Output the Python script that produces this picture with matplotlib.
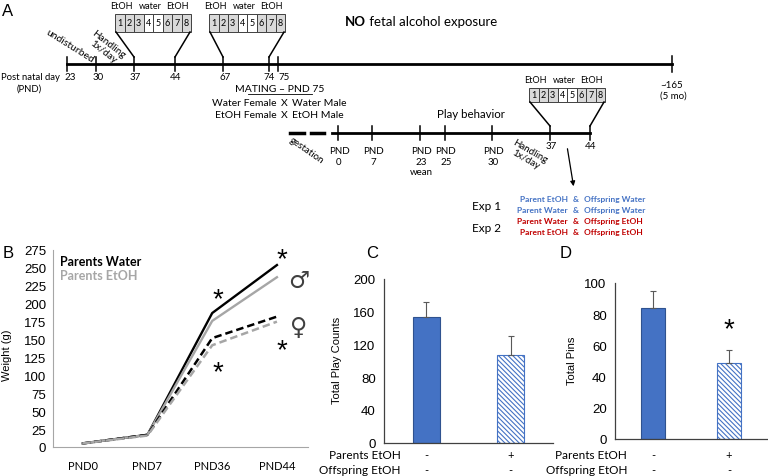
import matplotlib.pyplot as plt
from matplotlib.patches import Rectangle

plt.rcParams['font.family'] = ['Lato', 'DejaVu Sans']
plt.rcParams['hatch.linewidth'] = 0.8

W, H = 768, 477
ARIAL = 'Liberation Sans'
BLUE = '#4472c4'
RED = '#c00000'
GREY = '#a6a6a6'

# --- panel B: body weight (g)
days = ['PND0', 'PND7', 'PND36', 'PND44']
water_male = [5, 17, 187, 254]
etoh_male = [5, 17, 176, 237]
water_female = [5, 17, 152, 182]
etoh_female = [5, 16, 142, 175]

# --- panels C and D
parents_etoh = ['-', '+']
offspring_etoh = ['-', '-']
play_counts = [153, 107]
play_err = [19, 23]
pins = [84, 49]
pins_err = [11, 8]

# --- panel A timeline
top_days = ['23', '30', '37', '44', '67', '74', '75']
top_x = [67, 96, 134, 175, 223, 269, 278]
top_lab_x = [70, 98, 135, 176, 225, 269, 284]
low_days = ['PND\n0', 'PND\n7', 'PND\n23\nwean', 'PND\n25', 'PND\n30', '37', '44']
low_x = [338, 372, 420, 445, 492, 550, 590]
cells = ['1', '2', '3', '4', '5', '6', '7', '8']
water_cells = [3, 4]
exp_parent = ['Parent EtOH', 'Parent Water', 'Parent Water', 'Parent EtOH']
exp_offspring = ['Offspring Water', 'Offspring Water', 'Offspring EtOH', 'Offspring EtOH']
exp_colors = [BLUE, BLUE, RED, RED]


def px_axes(x0, x1, ytop, ybot):
    return fig.add_axes([x0 / W, 1 - ybot / H, (x1 - x0) / W, (ybot - ytop) / H])


fig = plt.figure(figsize=(W / 100, H / 100), dpi=100)

# ---------------- B
axB = px_axes(53, 308, 251, 448)
xs = range(len(days))
axB.plot(xs, water_male, color='black', lw=1.7)
axB.plot(xs, etoh_male, color=GREY, lw=1.7)
axB.plot(xs, water_female, color='black', lw=1.8, ls=(0, (3, 1.6)))
axB.plot(xs, etoh_female, color=GREY, lw=1.8, ls=(0, (3, 1.6)))
axB.set_xlim(-0.46, 3.48)
axB.set_ylim(0, 275)
axB.set_xticks(list(xs), days, fontsize=8)
yt = list(range(0, 276, 25))
axB.set_yticks(yt, [str(v) for v in yt], fontfamily=ARIAL, fontsize=9.5)
axB.tick_params(length=0, pad=5)
axB.tick_params(axis='x', pad=9)
for s in ['top', 'right']:
    axB.spines[s].set_visible(False)
for s in ['left', 'bottom']:
    axB.spines[s].set_color(GREY)
axB.set_ylabel('Weight (g)', fontfamily=ARIAL, fontsize=8)
axB.yaxis.set_label_coords(-0.16, 0.47)
axB.text(0.027, 0.944, 'Parents Water', transform=axB.transAxes, fontsize=9,
         fontweight='bold', va='center')
axB.text(0.027, 0.873, 'Parents EtOH', transform=axB.transAxes, fontsize=9,
         fontweight='bold', va='center', color=GREY)
for xa, ya in [(2.09, 206), (2.09, 104), (3.08, 262), (3.07, 135)]:
    axB.text(xa, ya, '*', fontfamily=ARIAL, fontsize=20, ha='center', va='center')
axB.text(3.33, 233, '\u2642', fontsize=17, ha='center', va='center', color='#404040')
axB.text(3.34, 167, '\u2640', fontsize=17, ha='center', va='center', color='#404040')


def bar_panel(ax, vals, errs, ymax, step, label, row_x, row_y):
    bx = [0, 1]
    ax.bar(bx[0], vals[0], width=0.32, color=BLUE, edgecolor='#2f528f', lw=0.8)
    ax.bar(bx[1], vals[1], width=0.32, color='white', edgecolor=BLUE, lw=0.8,
           hatch='\\' * 7)
    ax.errorbar(bx, vals, yerr=[[0, 0], errs], fmt='none', ecolor='#595959',
                elinewidth=0.8, capsize=2.5, capthick=0.8)
    ax.set_xlim(-0.5, 1.5)
    ax.set_ylim(0, ymax)
    ax.set_xticks([])
    t = list(range(0, ymax + 1, step))
    ax.set_yticks(t, [str(v) for v in t], fontfamily=ARIAL, fontsize=9.5)
    ax.tick_params(length=0, pad=6)
    for s in ['top', 'right']:
        ax.spines[s].set_visible(False)
    for s in ['left', 'bottom']:
        ax.spines[s].set_color('#404040')
        ax.spines[s].set_linewidth(0.9)
    ax.set_ylabel(label, fontfamily=ARIAL, fontsize=8)
    ax.yaxis.set_label_coords(-0.25, 0.51)
    tr = ax.get_xaxis_transform()
    ax.text(row_x, row_y[0], 'Parents EtOH', transform=ax.transAxes, ha='right',
            va='center', fontsize=8.5)
    ax.text(row_x, row_y[1], 'Offspring EtOH', transform=ax.transAxes, ha='right',
            va='center', fontsize=8.5)
    for i in bx:
        ax.text(i, row_y[0], parents_etoh[i], transform=tr, ha='center', va='center', fontsize=8)
        ax.text(i, row_y[1], offspring_etoh[i], transform=tr, ha='center', va='center', fontsize=8)


axC = px_axes(384, 553, 280, 443.7)
bar_panel(axC, play_counts, play_err, 200, 40, 'Total Play Counts', 0.10, [-0.072, -0.165])

axD = px_axes(615, 767, 284, 440)
bar_panel(axD, pins, pins_err, 100, 20, 'Total Pins', 0.079, [-0.1, -0.196])
axD.text(1, 70.5, '*', fontfamily=ARIAL, fontsize=20, ha='center', va='center')

# ---------------- A (drawn in pixel space)
ov = fig.add_axes([0, 0, 1, 1])
ov.set_xlim(0, W)
ov.set_ylim(H, 0)
ov.axis('off')
ov.patch.set_alpha(0)

for lab, (x, y) in zip('ABCD', [(8, 11), (8, 253), (372, 253), (566, 253)]):
    ov.text(x, y, lab, fontfamily=ARIAL, fontsize=12, ha='center', va='center')


def dose_box(x0, y0, w, h, tick_l, tick_r, line_top):
    cw = w / 8
    for i, c in enumerate(cells):
        fc = 'white' if i in water_cells else '#d9d9d9'
        ov.add_patch(Rectangle((x0 + i * cw, y0), cw, h, fc=fc, ec='#404040', lw=0.7))
        ov.text(x0 + (i + 0.5) * cw, y0 + h / 2, c, ha='center', va='center', fontsize=6.5)
    for lab, off in zip(['EtOH', 'water', 'EtOH'], [0.09, 0.47, 0.82]):
        ov.text(x0 + off * w, y0 - 8.5, lab, ha='center', va='center', fontsize=6.5)
    ov.plot([x0 + 1, tick_l], [y0 + h, line_top], color='k', lw=1.1)
    ov.plot([x0 + w - 1, tick_r], [y0 + h, line_top], color='k', lw=1.1)


# upper timeline
ov.plot([67, 672], [65, 65], color='k', lw=2)
for x, lx, lab in zip(top_x, top_lab_x, top_days):
    ov.plot([x, x], [58, 72], color='k', lw=1.1)
    ov.text(lx, 78, lab, ha='center', va='center', fontsize=7)
ov.plot([672, 672], [57, 73], color='k', lw=1.1)
ov.text(672, 85, '~165', ha='center', va='center', fontsize=7)
ov.text(673, 96, '(5 mo)', ha='center', va='center', fontsize=7)
ov.text(1, 77, 'Post natal day', ha='left', va='center', fontsize=6.8)
ov.text(29, 89, '(PND)', ha='center', va='center', fontsize=6.8)
ov.text(70, 46, 'undisturbed', rotation=-32, rotation_mode='anchor',
        ha='center', va='center', fontsize=7.5)
ov.text(106, 48, 'Handling\n1x/day', rotation=-38, rotation_mode='anchor',
        ha='center', va='center', fontsize=7.2, linespacing=1.0)
dose_box(115, 15, 76, 18, 134, 175, 58)
dose_box(209, 15, 76, 18, 223, 269, 58)

no_txt = ov.text(345, 22, 'NO', fontweight='bold', fontsize=9.5, va='center')
ov.annotate(' fetal alcohol exposure', xy=(1, 0.5), xycoords=no_txt,
            va='center', fontsize=9.5)

# mating
ov.text(280, 90, 'MATING \u2013 PND 75', ha='center', va='center', fontsize=7.5)
ov.plot([248, 312], [95, 95], color='k', lw=0.6)
for y, (f, m) in zip([103, 115], [('Water Female', 'Water Male'), ('EtOH Female', 'EtOH Male')]):
    ov.text(277, y, f, ha='right', va='center', fontsize=7.5)
    ov.text(284, y, 'X', ha='center', va='center', fontsize=7.5)
    ov.text(292, y, m, ha='left', va='center', fontsize=7.5)

# lower timeline
ov.plot([290, 304], [134, 134], color='k', lw=2.5)
ov.plot([311, 324], [134, 134], color='k', lw=2.5)
ov.plot([332, 590], [134, 134], color='k', lw=2)
for x, lab in zip(low_x, low_days):
    ov.plot([x, x], [127, 141], color='k', lw=1.1)
    yy = 147 if lab.startswith('PND') else 142
    ov.text(x + 1, yy, lab, ha='center', va='top', fontsize=7, linespacing=1.25)
ov.text(307, 151, 'gestation', rotation=-35, rotation_mode='anchor',
        ha='center', va='center', fontsize=7)
ov.text(528, 156, 'Handling\n1x/day', rotation=-30, rotation_mode='anchor',
        ha='center', va='center', fontsize=7, linespacing=1.0)
ov.text(471, 114, 'Play behavior', ha='center', va='center', fontsize=8.3)
dose_box(529, 89, 76, 14, 550, 590, 127)

ov.annotate('', xy=(574, 190), xytext=(567, 147),
            arrowprops=dict(arrowstyle='-|>', color='k', lw=0.9, mutation_scale=7))

ov.text(487, 207, 'Exp 1', ha='center', va='center', fontsize=8.5)
ov.text(487, 229, 'Exp 2', ha='center', va='center', fontsize=8.5)
for i, (p, o, c) in enumerate(zip(exp_parent, exp_offspring, exp_colors)):
    y = 200 + i * 10.7
    ov.text(568, y, p, ha='right', va='center', fontsize=6, fontweight='bold', color=c)
    ov.text(576, y, '&', ha='center', va='center', fontsize=6, fontweight='bold', color=c)
    ov.text(584, y, o, ha='left', va='center', fontsize=6, fontweight='bold', color=c)

fig.savefig('out.png', dpi=100)
